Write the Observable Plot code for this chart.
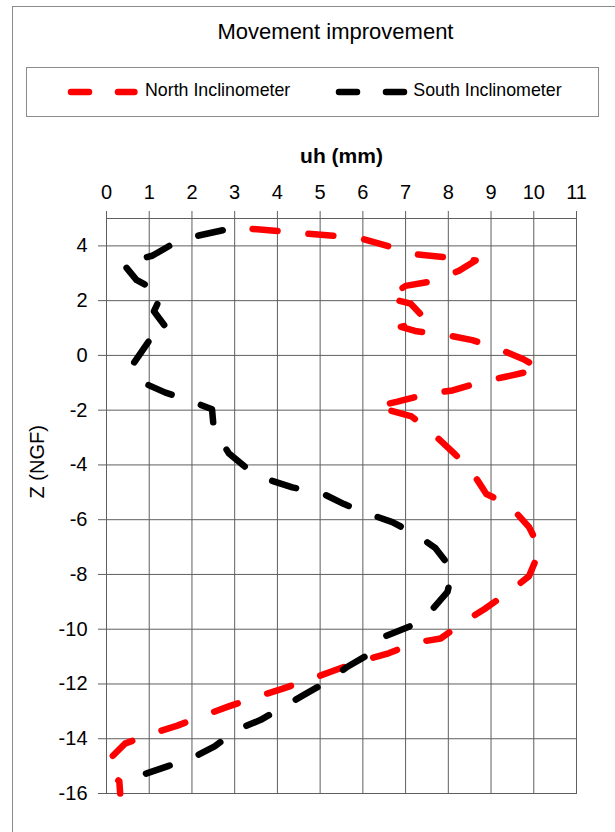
<!DOCTYPE html>
<html>
<head>
<meta charset="utf-8">
<script src="https://cdn.jsdelivr.net/npm/d3@7"></script>
<script src="https://cdn.jsdelivr.net/npm/@observablehq/plot@0.6"></script>
<style>
  body { margin: 0; background: #fff; font-family: "Liberation Sans", Arial, sans-serif; }
  #wrap { position: relative; width: 615px; height: 832px; overflow: hidden; background: #fff; }
  #border { position: absolute; left: 12px; top: 6px; width: 800px; height: 1000px; border: 1px solid #8c8c8c; box-sizing: border-box; }
  #title { position: absolute; left: 335.5px; top: 21.4px; transform: translateX(-50%); white-space: nowrap; font-size: 22px; line-height: 22px; color: #000; }
  #legend { position: absolute; left: 26px; top: 67px; width: 573px; height: 50px; border: 1px solid #8c8c8c; box-sizing: border-box; }
  .lg-text { position: absolute; white-space: nowrap; font-size: 17.8px; line-height: 17.8px; color: #000; }
  .lg-sw { position: absolute; }
  #chart { position: absolute; left: 0; top: 130px; }
</style>
</head>
<body>
<div id="wrap">
  <div id="border"></div>
  <div id="title"></div>
  <div id="legend"></div>
  <div id="chart"></div>
</div>
<script>
// ---- data ----
const titleText = "Movement improvement";
const xLabel = "uh (mm)";
const yLabel = "Z (NGF)";
const xTicks = [0, 1, 2, 3, 4, 5, 6, 7, 8, 9, 10, 11];
const yTicks = [-16, -14, -12, -10, -8, -6, -4, -2, 0, 2, 4];
const seriesNames = ["North Inclinometer", "South Inclinometer"];
const seriesColors = ["#ff0000", "#000000"];

// North Inclinometer: horizontal displacement uh (mm) vs elevation Z (NGF)
const northU = [3.42, 4.7, 5.36, 6.01, 6.61, 7.27, 7.9, 8.64, 8.25, 7.6, 7.0, 6.57, 7.12, 7.47, 6.89, 7.26, 7.9, 8.56, 9.11, 9.76, 10.16, 9.34, 8.76, 8.1, 7.47, 6.81, 6.3, 7.14, 7.57, 8.13, 8.52, 8.89, 9.42, 9.89, 10.15, 9.89, 9.42, 8.84, 8.37, 7.82, 7.23, 6.6, 5.98, 5.36, 4.78, 4.11, 3.53, 2.86, 2.28, 1.66, 1.03, 0.43, 0.05, 0.08, 0.3, 0.32];
const northZ = [4.62, 4.45, 4.36, 4.25, 3.98, 3.69, 3.59, 3.47, 3.09, 2.7, 2.54, 2.1, 1.89, 1.31, 1.04, 0.88, 0.76, 0.56, 0.28, -0.14, -0.49, -0.78, -0.97, -1.28, -1.42, -1.69, -1.87, -2.23, -2.75, -3.57, -4.17, -5.06, -5.46, -6.27, -7.08, -8.06, -8.64, -9.27, -9.73, -10.34, -10.49, -10.88, -11.15, -11.49, -11.82, -12.18, -12.46, -12.82, -13.15, -13.52, -13.83, -14.18, -14.78, -15.32, -15.55, -16];

// South Inclinometer
const southU = [2.72, 2.16, 1.54, 1.07, 0.38, 0.7, 1.3, 1.11, 1.46, 0.99, 0.6, 0.76, 1.38, 1.97, 2.47, 2.51, 2.86, 3.26, 3.8, 4.35, 5.05, 5.56, 6.14, 6.69, 7.26, 7.7, 8.1, 7.98, 7.52, 7.12, 6.49, 6.18, 5.64, 5.17, 4.62, 4.15, 3.61, 3.06, 2.53, 2.08, 1.44, 0.91, 0.48, 0.47];
const southZ = [4.57, 4.38, 4.06, 3.64, 3.37, 2.76, 2.24, 1.61, 0.88, 0.52, -0.37, -0.93, -1.36, -1.66, -1.97, -2.67, -3.57, -4.09, -4.54, -4.82, -5.04, -5.43, -5.79, -6.09, -6.55, -7.04, -7.85, -8.64, -9.46, -9.88, -10.28, -10.88, -11.37, -11.91, -12.4, -12.82, -13.31, -13.67, -14.28, -14.64, -15.0, -15.28, -15.79, -16];

// ---- header (title + legend) ----
document.getElementById("title").textContent = titleText;
const legend = d3.select("#legend");
const legendItems = [
  { name: seriesNames[0], color: seriesColors[0], x1: 71.3, x2: 134.7, tx: 145 },
  { name: seriesNames[1], color: seriesColors[1], x1: 339.3, x2: 405, tx: 413.3 }
];
for (const it of legendItems) {
  const sw = legend.append("svg").attr("class", "lg-sw")
    .attr("width", 90).attr("height", 20)
    .style("left", (it.x1 - 10 - 27) + "px").style("top", (92 - 10 - 68) + "px");
  sw.append("line")
    .attr("x1", 10).attr("x2", 10 + (it.x2 - it.x1))
    .attr("y1", 10).attr("y2", 10)
    .attr("stroke", it.color).attr("stroke-width", 6.5)
    .attr("stroke-linecap", "round").attr("stroke-dasharray", "18,29");
  legend.append("div").attr("class", "lg-text")
    .style("left", (it.tx - 27) + "px").style("top", (82.2 - 68) + "px")
    .text(it.name);
}

// ---- chart ----
const rows = [
  ...northU.map((u, i) => ({ series: seriesNames[0], u, z: northZ[i] })),
  ...southU.map((u, i) => ({ series: seriesNames[1], u, z: southZ[i] }))
];
const gridColor = "#5f5f5f";
const chart = Plot.plot({
  width: 615,
  height: 702,
  marginTop: 88,
  marginBottom: 39,
  marginLeft: 106,
  marginRight: 39,
  style: { fontFamily: '"Liberation Sans", Arial, sans-serif', fontSize: "20px", color: "#000", background: "transparent", overflow: "visible" },
  x: { domain: [0, 11] },
  y: { domain: [-16, 5] },
  color: { domain: seriesNames, range: seriesColors },
  marks: [
    Plot.gridX(xTicks, { stroke: gridColor, strokeOpacity: 1, strokeWidth: 1 }),
    Plot.gridY(yTicks, { stroke: gridColor, strokeOpacity: 1, strokeWidth: 1 }),
    Plot.frame({ stroke: gridColor, strokeWidth: 1 }),
    Plot.axisX(xTicks, { anchor: "top", tickSize: 8, tickPadding: 12, stroke: gridColor, fill: "#000", fontSize: 20, label: null, tickFormat: d => String(d) }),
    Plot.axisY(yTicks, { anchor: "left", tickSize: 8, tickPadding: 11, stroke: gridColor, fill: "#000", fontSize: 20, label: null, tickFormat: d => String(d) }),
    Plot.line(rows, { x: "u", y: "z", z: "series", stroke: "series", strokeWidth: 6.5, strokeDasharray: "25,31", strokeLinecap: "round", strokeLinejoin: "round" }),
    Plot.text([xLabel], { text: d => d, frameAnchor: "top", lineAnchor: "bottom", dy: -56, fontWeight: "bold", fontSize: 21, fill: "#000" }),
    Plot.text([yLabel], { text: d => d, frameAnchor: "left", rotate: -90, dx: -69, dy: -7.5, fontSize: 20, fill: "#000" })
  ]
});
document.getElementById("chart").appendChild(chart);
</script>
</body>
</html>
